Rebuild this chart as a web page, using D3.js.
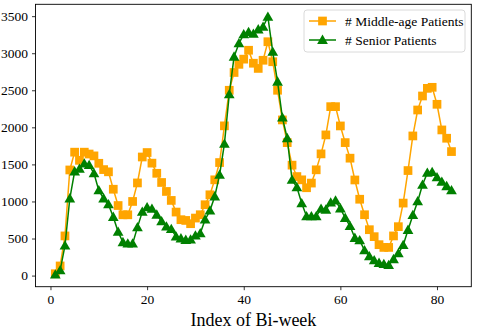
<!DOCTYPE html>
<html>
<head>
<meta charset="utf-8">
<script src="https://cdn.jsdelivr.net/npm/d3@7"></script>
<style>
  body { margin: 0; background: #fff; }
  svg { display: block; font-family: "Liberation Serif", "DejaVu Serif", serif; }
  .legend-label { font-size: 13.5px; font-family: "Liberation Serif", serif; }
</style>
</head>
<body>
<svg id="chart"></svg>
<script>
// bi-week index 1..83
const weeks = d3.range(1, 84);

const middleAge = [
  25, 130, 535, 1425, 1665, 1555, 1665, 1640, 1615, 1515,
  1430, 1400, 1165, 945, 820, 820, 1000, 1250, 1600, 1660,
  1517, 1380, 1256, 1135, 1014, 857, 754, 744, 700, 776,
  821, 956, 1090, 1292, 1525, 2020, 2500, 2740, 2850, 2920,
  3040, 2865, 2795, 2905, 3155, 2885, 2500, 2100, 1794, 1490,
  1336, 1292, 1185, 1248, 1427, 1642, 1898, 2279, 2279, 2019,
  1794, 1584, 1290, 1030, 821, 619, 525, 417, 380, 380,
  535, 660, 978, 1417, 1884, 2234, 2423, 2526, 2540, 2311,
  1965, 1853, 1673
];

const senior = [
  13, 70, 404, 1040, 1404, 1440, 1510, 1490, 1380, 1150,
  1040, 960, 790, 590, 450, 430, 430, 650, 860, 920,
  900, 821, 731, 660, 628, 525, 500, 480, 485, 540,
  570, 754, 877, 1067, 1359, 1777, 2445, 2952, 3132, 3255,
  3285, 3260, 3320, 3356, 3490, 3019, 2615, 2130, 1853, 1292,
  1190, 975, 799, 799, 799, 900, 888, 983, 1010, 905,
  777, 668, 507, 475, 340, 260, 205, 170, 155, 140,
  220, 300, 410, 615, 815, 1000, 1225, 1385, 1395, 1325,
  1265, 1205, 1150
];

const seriesNames = ['# Middle-age Patients', '# Senior Patients'];
const seriesColors = ['#ffa500', '#008000'];
const xTicks = [0, 20, 40, 60, 80];
const yTicks = [0, 500, 1000, 1500, 2000, 2500, 3000, 3500];

const width = 479;
const height = 332;
const margin = { top: 4.3, right: 7.7, bottom: 45.3, left: 35.5 };

const svg = d3.select('#chart')
  .attr('width', width)
  .attr('height', height);

const x = d3.scaleLinear()
  .domain([-3.1, 87.1])
  .range([margin.left, width - margin.right]);

const y = d3.scaleLinear()
  .domain([-150, 3660])
  .range([height - margin.bottom, margin.top]);

// axes
const xAxis = svg.append('g')
  .attr('transform', `translate(0,${height - margin.bottom})`)
  .call(d3.axisBottom(x).tickValues(xTicks).tickFormat(d3.format('d'))
    .tickSize(3.5).tickPadding(4.5).tickSizeOuter(0));

const yAxis = svg.append('g')
  .attr('transform', `translate(${margin.left},0)`)
  .call(d3.axisLeft(y).tickValues(yTicks).tickFormat(d3.format('d'))
    .tickSize(3.5).tickPadding(4).tickSizeOuter(0));

[xAxis, yAxis].forEach((g) => {
  g.attr('font-family', '"Liberation Serif", "DejaVu Serif", serif')
    .attr('font-size', 13.5);
  g.select('.domain').remove();
  g.selectAll('.tick line').attr('stroke', '#000').attr('stroke-width', 0.8);
  g.selectAll('.tick text').attr('fill', '#000');
});

// frame
svg.append('rect')
  .attr('x', margin.left)
  .attr('y', margin.top)
  .attr('width', width - margin.left - margin.right)
  .attr('height', height - margin.top - margin.bottom)
  .attr('fill', 'none')
  .attr('stroke', '#000')
  .attr('stroke-width', 0.9);

svg.append('text')
  .attr('x', (margin.left + width - margin.right) / 2)
  .attr('y', 326)
  .attr('text-anchor', 'middle')
  .style('font-size', '18px')
  .text('Index of Bi-week');

const line = d3.line()
  .x((d, i) => x(weeks[i]))
  .y(d => y(d));

const square = d3.symbol().type(d3.symbolSquare).size(76);
const triangle = d3.symbol().type(d3.symbolTriangle).size(50);
const shapes = [square, triangle];

[middleAge, senior].forEach((values, k) => {
  const g = svg.append('g');
  g.append('path')
    .datum(values)
    .attr('fill', 'none')
    .attr('stroke', seriesColors[k])
    .attr('stroke-width', 1.5)
    .attr('d', line);

  g.selectAll('.marker')
    .data(values)
    .enter()
      .append('path')
      .attr('class', 'marker')
      .attr('transform', (d, i) => `translate(${x(weeks[i])},${y(d) + (k === 1 ? 0.8 : 0)})`)
      .attr('d', shapes[k])
      .attr('fill', seriesColors[k]);
});

// legend
const legend = svg.append('g')
  .attr('transform', 'translate(304,10)');

legend.append('rect')
  .attr('width', 161)
  .attr('height', 42)
  .attr('rx', 3)
  .attr('fill', '#fff')
  .attr('fill-opacity', 0.8)
  .attr('stroke', '#d0d0d0')
  .attr('stroke-width', 0.8);

seriesNames.forEach((name, k) => {
  const row = legend.append('g')
    .attr('transform', `translate(0,${11 + k * 19})`);
  row.append('line')
    .attr('x1', 5)
    .attr('x2', 32)
    .attr('stroke', seriesColors[k])
    .attr('stroke-width', 1.5);
  row.append('path')
    .attr('transform', `translate(18.5,${k === 1 ? 0.8 : 0})`)
    .attr('d', shapes[k])
    .attr('fill', seriesColors[k]);
  row.append('text')
    .attr('class', 'legend-label')
    .attr('x', 41)
    .attr('dy', '0.35em')
    .text(name);
});
</script>
</body>
</html>
